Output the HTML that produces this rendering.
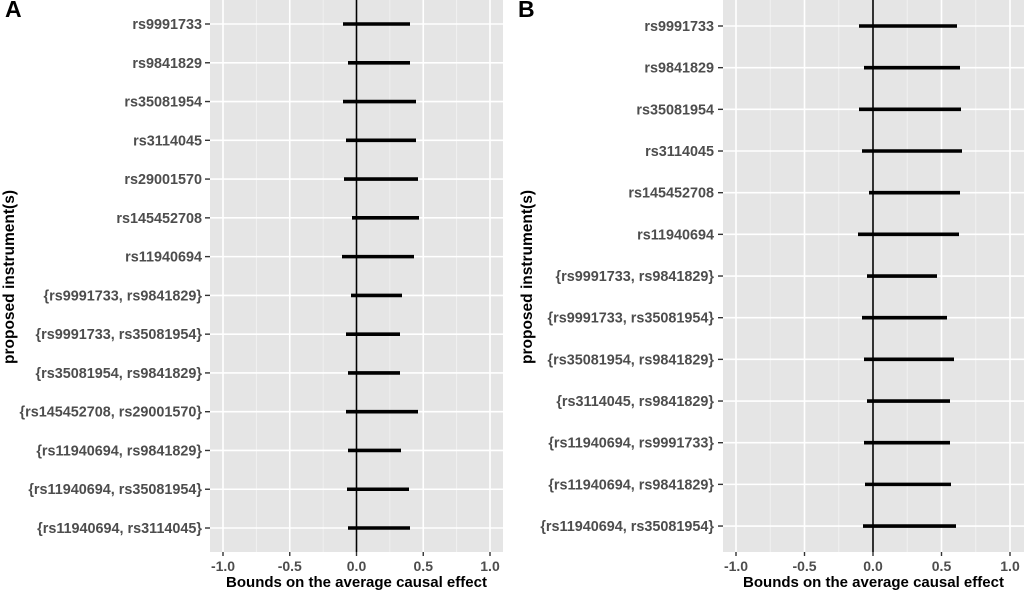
<!DOCTYPE html>
<html><head><meta charset="utf-8"><style>
html,body{margin:0;padding:0;background:#fff;}
svg{display:block;font-family:"Liberation Sans",Arial,sans-serif;}
</style></head><body>
<svg id="s" width="1024" height="591" xmlns="http://www.w3.org/2000/svg"></svg>
<script>
const s=document.getElementById('s');let h='';
function panel(L,R,top,bot,x0,ppu,rows,tickLX,labelEnd,ytitleX,letter,letterX){
  h+=`<rect x="${L}" y="${top}" width="${R-L}" height="${bot-top}" fill="#e5e5e5"/>`;
  const X=v=>x0+v*ppu;
  [-0.75,-0.25,0.25,0.75].forEach(v=>h+=`<line x1="${X(v)}" x2="${X(v)}" y1="${top}" y2="${bot}" stroke="#f3f3f3" stroke-width="0.8"/>`);
  [-1,-0.5,0,0.5,1].forEach(v=>{h+=`<line x1="${X(v)}" x2="${X(v)}" y1="${top}" y2="${bot}" stroke="#fff" stroke-width="1.6"/>`;
    h+=`<line x1="${X(v)}" x2="${X(v)}" y1="${bot}" y2="${bot+4}" stroke="#333" stroke-width="1.4"/>`;
    h+=`<text x="${X(v)}" y="${bot+19}" font-size="14" font-weight="bold" fill="#4d4d4d" text-anchor="middle">${v.toFixed(1)}</text>`;});
  rows.forEach(r=>{h+=`<line x1="${L}" x2="${R}" y1="${r[0]}" y2="${r[0]}" stroke="#fff" stroke-width="1.6"/>`;});
  h+=`<line x1="${x0}" x2="${x0}" y1="${top}" y2="${bot}" stroke="#000" stroke-width="1.6"/>`;
  rows.forEach(r=>{const[y,a,b,t]=r;
    h+=`<line x1="${a}" x2="${b}" y1="${y}" y2="${y}" stroke="#000" stroke-width="3.6"/>`;
    h+=`<line x1="${L-5}" x2="${L}" y1="${y}" y2="${y}" stroke="#333" stroke-width="1.4"/>`;
    h+=`<text x="${labelEnd}" y="${y+5}" font-size="14.4" font-weight="bold" fill="#4d4d4d" text-anchor="end">${t}</text>`;});
  h+=`<text x="${(L+R)/2}" y="${bot+35}" font-size="15" font-weight="bold" fill="#000" text-anchor="middle">Bounds on the average causal effect</text>`;
  h+=`<text transform="translate(${ytitleX},277) rotate(-90)" font-size="15.5" font-weight="bold" fill="#000" text-anchor="middle">proposed instrument(s)</text>`;
  h+=`<text x="${letterX}" y="17" font-size="23" font-weight="bold" fill="#000">${letter}</text>`;
}
const ta=["rs9991733","rs9841829","rs35081954","rs3114045","rs29001570","rs145452708","rs11940694","{rs9991733, rs9841829}","{rs9991733, rs35081954}","{rs35081954, rs9841829}","{rs145452708, rs29001570}","{rs11940694, rs9841829}","{rs11940694, rs35081954}","{rs11940694, rs3114045}"];
const ea=[[343,410],[348,410],[343,416],[346,416],[344,418],[352,419],[342,414],[351,402],[346,400],[348,400],[346,418],[348,401],[347,409],[348,410]];
const ra=ta.map((t,i)=>[24+i*38.77,ea[i][0],ea[i][1],t]);
panel(210,503,0,552,356.5,133.5,ra,0,202,14,"A",5);
const tb=["rs9991733","rs9841829","rs35081954","rs3114045","rs145452708","rs11940694","{rs9991733, rs9841829}","{rs9991733, rs35081954}","{rs35081954, rs9841829}","{rs3114045, rs9841829}","{rs11940694, rs9991733}","{rs11940694, rs9841829}","{rs11940694, rs35081954}"];
const eb=[[859,957],[864,960],[859,961],[862,962],[869,960],[858,959],[867,937],[862,947],[864,954],[867,950],[864,950],[865,951],[863,956]];
const rb=tb.map((t,i)=>[26+i*41.67,eb[i][0],eb[i][1],t]);
panel(723,1024,0,552,873,137,rb,0,714,532,"B",518);
s.innerHTML=h;
</script>
</body></html>
